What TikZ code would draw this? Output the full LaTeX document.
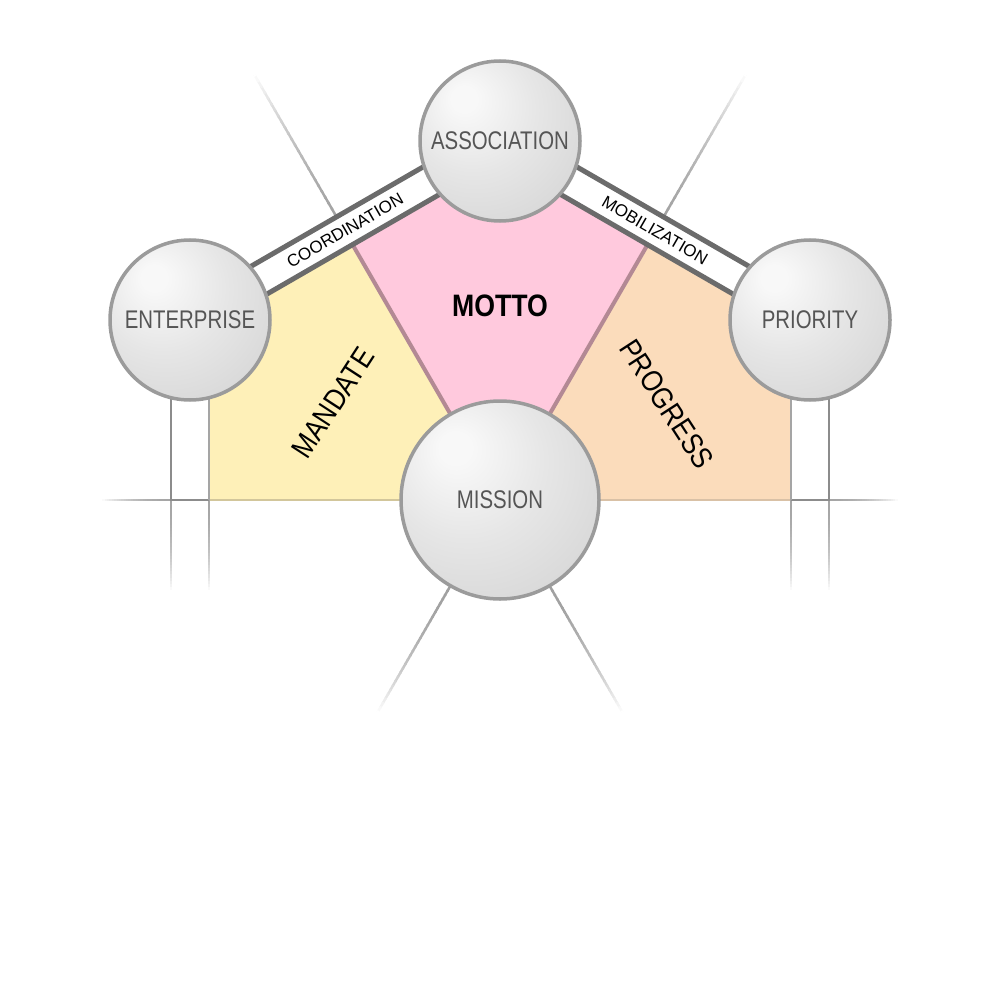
\documentclass[tikz,border=0pt]{standalone}
\usepackage{fontspec}
\setmainfont{Liberation Sans}
\newfontfamily\condf[FakeStretch=0.8]{Liberation Sans}
\newfontfamily\condm[FakeStretch=0.86]{Liberation Sans}
\usetikzlibrary{calc}
\definecolor{yel}{HTML}{FEF0B8}
\definecolor{pnk}{HTML}{FFC9DD}
\definecolor{pch}{HTML}{FBDCBB}
\definecolor{mauve}{HTML}{B38994}
\definecolor{bandc}{HTML}{6B6B6B}
\definecolor{circ}{HTML}{9B9B9B}
\definecolor{txtc}{HTML}{555555}
\definecolor{tanY}{HTML}{D2C69B}
\definecolor{tanP}{HTML}{D9C1A6}
\definecolor{pilla}{HTML}{8C8C8C}
\definecolor{pillb}{HTML}{A5A5A5}
\definecolor{fadec}{HTML}{A0A0A0}
\definecolor{shA}{HTML}{F8F8F8}
\definecolor{shB}{HTML}{E6E6E6}
\definecolor{shC}{HTML}{D6D6D6}
\definecolor{shD}{HTML}{BFBFBF}
\pgfdeclareradialshading{sphere}{\pgfpoint{-12bp}{14bp}}{color(0bp)=(shA); color(4bp)=(shA); color(20bp)=(shB); color(38bp)=(shC); color(68bp)=(shD)}
\newcommand\fadeln[4]{%
  \foreach \i in {0,...,29}{%
    \pgfmathsetmacro\fa{\i/30}%
    \pgfmathsetmacro\fb{min(1,(\i+1.3)/30)}%
    \pgfmathtruncatemacro\fp{100-100*(\i/29)^2}%
    \draw[line width=#3, draw=#4!\fp!white] ($(#1)!\fa!(#2)$) -- ($(#1)!\fb!(#2)$);
  }}
\begin{document}
\begin{tikzpicture}[x=1pt,y=-1pt,
  ballnode/.style={circle, minimum size=160pt, inner sep=0pt, draw=circ, line width=3.5pt,
    shade, shading=sphere, text=txtc, font={\condf\fontsize{25.5}{30}\selectfont}},
  bandline/.style={draw=bandc, line width=5pt},
  bandlabel/.style={font={\fontsize{17}{20}\selectfont}, text=black, inner sep=0pt},
  regionlabel/.style={font={\condm\fontsize{30}{34}\selectfont}, text=black, inner sep=0pt},
  pillar/.style={line width=2.5pt}]
\useasboundingbox (0,0) rectangle (1000,1000);
% key points
\coordinate (Ec) at (190,320);
\coordinate (Ac) at (500,141);
\coordinate (Pc) at (810,320);
\coordinate (Mc) at (500,500);
\coordinate (Elo) at (198,333.86);
\coordinate (Eup) at (182,306.14);
\coordinate (Alo) at (508,154.86);
\coordinate (Aup) at (492,127.14);
\coordinate (Alo2) at (492,154.86);
\coordinate (Aup2) at (508,127.14);
\coordinate (Plo) at (802,333.86);
\coordinate (Pup) at (818,306.14);
\coordinate (LAt) at (252,70.5);
\coordinate (LBt) at (748,70.5);
\coordinate (LAb) at (624,715);
\coordinate (LBb) at (376,715);
\coordinate (LAe) at (549.5,585.7);
\coordinate (LBe) at (450.5,585.7);
\coordinate (v1) at (209,200);
\coordinate (v2) at (209,600);
\coordinate (w1) at (791,200);
\coordinate (w2) at (791,600);
\coordinate (pl) at (intersection of Elo--Alo and Mc--LAt);
\coordinate (pr) at (intersection of Alo2--Plo and Mc--LBt);
\coordinate (pa) at (intersection of Elo--Alo and Alo2--Plo);
\coordinate (yl) at (intersection of Elo--Alo and v1--v2);
\coordinate (yr) at (intersection of Alo2--Plo and w1--w2);
% upper fading lines
\fadeln{pl}{LAt}{2.5pt}{fadec}
\fadeln{pr}{LBt}{2.5pt}{fadec}
% regions
\fill[yel] (209,500) -- (yl) -- (pl) -- (Mc) -- cycle;
\fill[pch] (791,500) -- (yr) -- (pr) -- (Mc) -- cycle;
\fill[pnk] (pl) -- (pa) -- (pr) -- (Mc) -- cycle;
\draw[mauve, line width=4pt] (pl) -- (Mc) -- (pr);
\draw[tanY, line width=2pt] (209,500) -- (Mc);
\draw[tanP, line width=2pt] (791,500) -- (Mc);
% pillars
\fadeln{171,500}{171,593}{2.5pt}{pillb}
\fadeln{209,500}{209,593}{2.5pt}{pillb}
\fadeln{791,500}{791,593}{2.5pt}{pillb}
\fadeln{829,500}{829,593}{2.5pt}{pillb}
\fadeln{171,500}{100,500}{2.5pt}{pillb}
\fadeln{829,500}{900,500}{2.5pt}{pillb}
\draw[pillar, pilla] (171,395) -- (171,500) -- (209,500);
\draw[pillar, pillb] (209,395) -- (209,500);
\draw[pillar, pilla] (829,395) -- (829,500) -- (791,500);
\draw[pillar, pillb] (791,395) -- (791,500);
% bands
\fill[white] (Eup) -- (Aup) -- (Alo) -- (Elo) -- cycle;
\fill[white] (Aup2) -- (Pup) -- (Plo) -- (Alo2) -- cycle;
\draw[bandline] (Eup) -- (Aup);
\draw[bandline] (Elo) -- (Alo);
\draw[bandline] (Aup2) -- (Pup);
\draw[bandline] (Alo2) -- (Plo);
\node[bandlabel, rotate=30] (coord) at ($(Ec)!0.5!(Ac)$) {COORDINATION};
\node[bandlabel, rotate=-30] (mobil) at ($(Ac)!0.5!(Pc)$) {MOBILIZATION};
% lower fading lines
\fadeln{LAe}{LAb}{2.5pt}{fadec}
\fadeln{LBe}{LBb}{2.5pt}{fadec}
% circles
\node[ballnode] (assoc) at (Ac) {ASSOCIATION};
\node[ballnode] (enter) at (Ec) {ENTERPRISE};
\node[ballnode] (prio) at (Pc) {PRIORITY};
\node[ballnode, minimum size=198pt] (miss) at (Mc) {MISSION};
% region labels
\node[inner sep=0pt, font={\condm\bfseries\fontsize{31}{34}\selectfont}] (motto) at (500,306) {MOTTO};
\node[regionlabel, rotate=57] (mand) at (333,403) {MANDATE};
\node[regionlabel, rotate=-57] (prog) at (667,404) {PROGRESS};
\end{tikzpicture}
\end{document}
